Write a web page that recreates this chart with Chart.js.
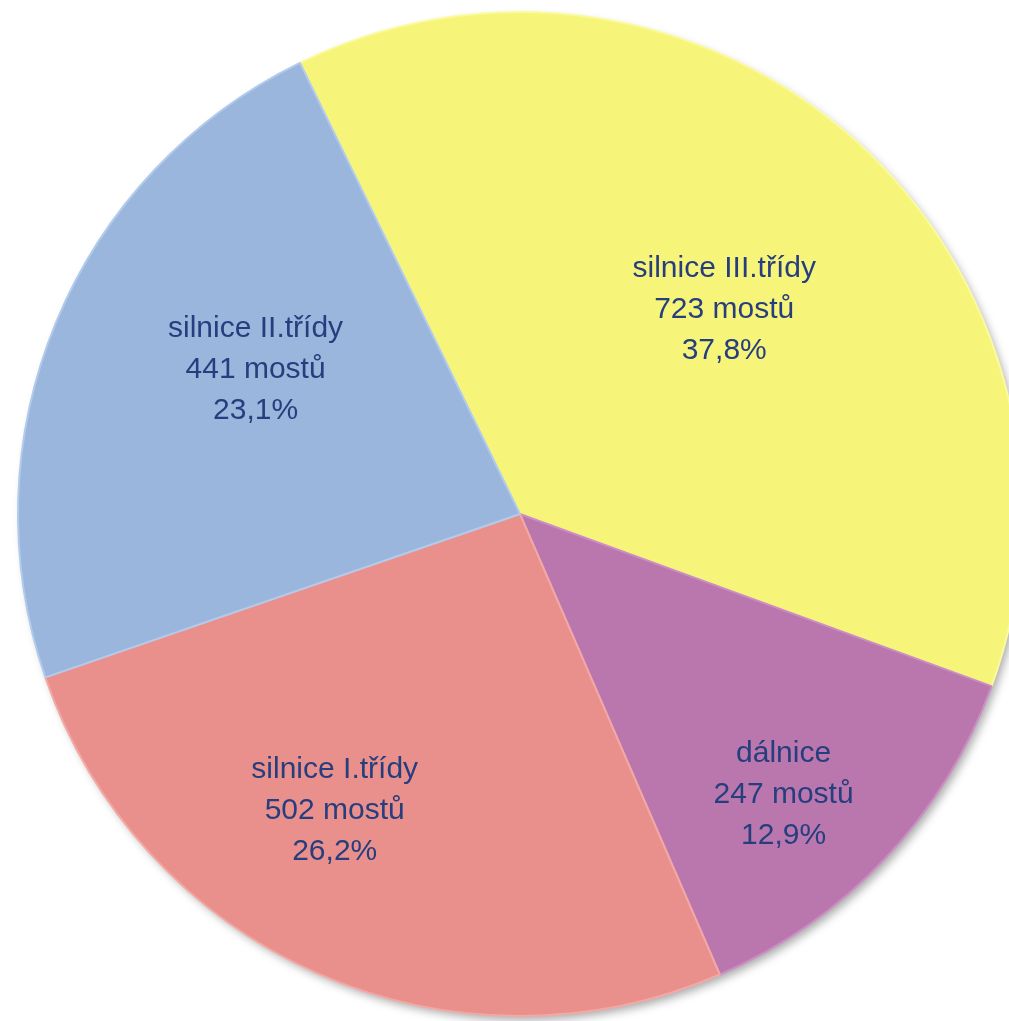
<!DOCTYPE html>
<html>
<head>
<meta charset="utf-8">
<script src="https://cdn.jsdelivr.net/npm/chart.js@4"></script>
<style>
  html, body { margin: 0; padding: 0; background: #fff; overflow: hidden; }
  #wrap { width: 1040px; height: 1021px; }
</style>
</head>
<body>
<div id="wrap"><canvas id="bridgesChart" width="1040" height="1021"></canvas></div>
<script>
  // data
  const categories = ['silnice III.třídy', 'dálnice', 'silnice I.třídy', 'silnice II.třídy'];
  const bridges = [723, 247, 502, 441];
  const colors = ['#F6F57A', '#B977AE', '#E9908D', '#9BB6DD'];
  const edgeColors = ['#FAFA9E', '#CC8CC4', '#F3A8A4', '#B2CBEC'];
  // label placement: distance from centre (part of radius) and turn from mid angle (deg)
  const labelDist = [0.575, 0.767, 0.697, 0.6];
  const labelTurn = [3, 3.5, 8.2, 6.1];

  const total = bridges.reduce((a, b) => a + b, 0);
  const percents = bridges.map(v => (v / total * 100).toFixed(1).replace('.', ',') + '%');

  const sliceLabels = {
    id: 'sliceLabels',
    beforeDatasetsDraw(chart) {
      const arc = chart.getDatasetMeta(0).data[0];
      const c = chart.ctx;
      c.save();
      c.shadowColor = 'rgba(0,0,0,0.35)';
      c.shadowBlur = 10;
      c.shadowOffsetX = 4;
      c.shadowOffsetY = 5;
      c.beginPath();
      c.arc(arc.x, arc.y, arc.outerRadius - 1, 0, Math.PI * 2);
      c.fillStyle = '#ddd';
      c.fill();
      c.restore();
    },
    afterDatasetsDraw(chart) {
      const c = chart.ctx;
      const meta = chart.getDatasetMeta(0);
      c.save();
      c.fillStyle = '#263E7E';
      c.font = '30px "Liberation Sans", Arial, sans-serif';
      c.textAlign = 'center';
      c.textBaseline = 'middle';
      meta.data.forEach((el, i) => {
        const mid = (el.startAngle + el.endAngle) / 2 + labelTurn[i] * Math.PI / 180;
        const r = el.outerRadius * labelDist[i];
        const x = el.x + Math.cos(mid) * r;
        const y = el.y + Math.sin(mid) * r;
        const lines = [categories[i], bridges[i] + ' mostů', percents[i]];
        lines.forEach((t, j) => c.fillText(t, x, y + (j - 1) * 41));
      });
      c.restore();
    }
  };

  const ctx = document.getElementById('bridgesChart').getContext('2d');
  new Chart(ctx, {
    type: 'pie',
    data: {
      labels: categories,
      datasets: [{
        data: bridges,
        backgroundColor: colors,
        borderColor: edgeColors,
        borderWidth: 2
      }]
    },
    options: {
      responsive: false,
      animation: false,
      rotation: -26,
      layout: { padding: { left: 17, right: 17, top: 11, bottom: 4 } },
      plugins: {
        legend: { display: false },
        tooltip: { enabled: false },
        title: { display: false }
      }
    },
    plugins: [sliceLabels]
  });
</script>
</body>
</html>
